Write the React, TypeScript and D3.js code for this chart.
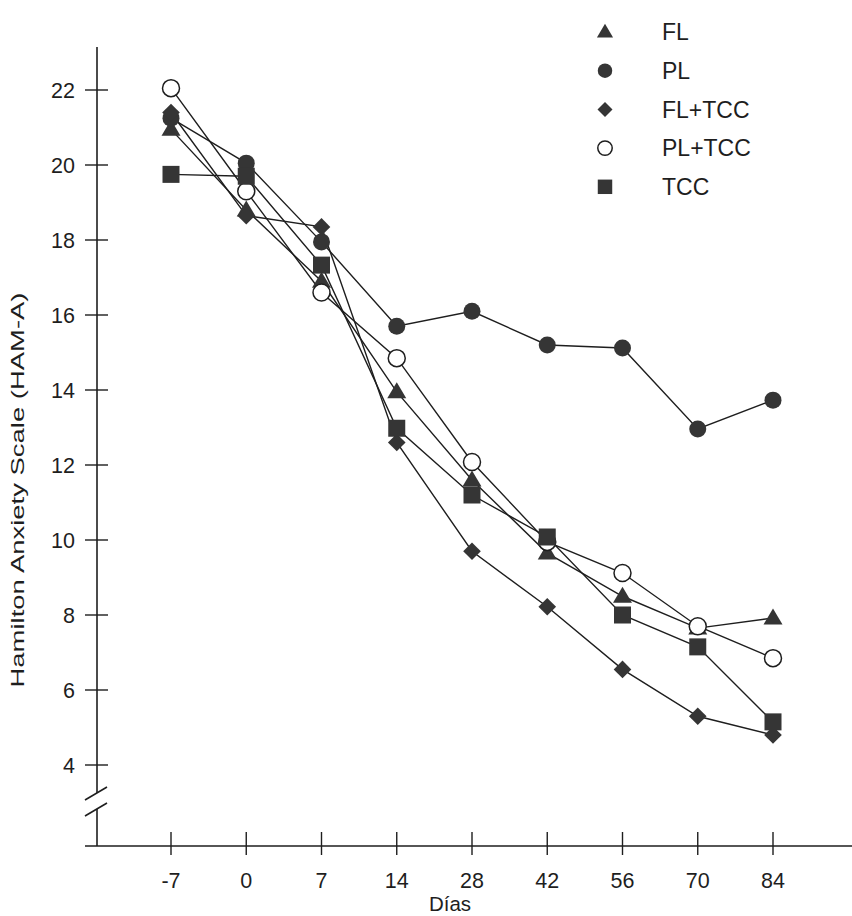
import React from "react";
import * as d3 from "d3";

const days = ["-7", "0", "7", "14", "28", "42", "56", "70", "84"];
const seriesNames = ["FL", "PL", "FL+TCC", "PL+TCC", "TCC"];
const flValues = [20.95, 18.8, 16.9, 13.95, 11.6, 9.65, 8.5, 7.65, 7.92];
const plValues = [21.25, 20.05, 17.95, 15.7, 16.1, 15.2, 15.12, 12.96, 13.73];
const flTccValues = [21.4, 18.65, 18.35, 12.6, 9.7, 8.22, 6.55, 5.3, 4.8];
const plTccValues = [22.05, 19.3, 16.6, 14.85, 12.08, 9.95, 9.12, 7.7, 6.85];
const tccValues = [19.75, 19.7, 17.33, 12.98, 11.2, 10.08, 8.0, 7.15, 5.15];
const yTicks = [4, 6, 8, 10, 12, 14, 16, 18, 20, 22];

const FONT = "'Liberation Sans', Arial, Helvetica, sans-serif";
const INK = "#1e1e1e";
const FILL = "#353535";

type Shape = "triangle" | "circle" | "diamond" | "open" | "square";
const shapes: Shape[] = ["triangle", "circle", "diamond", "open", "square"];

function Marker({ shape, x, y, s = 1 }: { shape: Shape; x: number; y: number; s?: number }) {
  if (shape === "circle")
    return <circle cx={x} cy={y} r={8.5 * s} fill={FILL} />;
  if (shape === "open")
    return <circle cx={x} cy={y} r={8.5 * s} fill="#fff" stroke={INK} strokeWidth={1.5} />;
  if (shape === "square")
    return <rect x={x - 8.5 * s} y={y - 8.5 * s} width={17 * s} height={17 * s} fill={FILL} />;
  if (shape === "diamond") {
    const r = 8.8 * s;
    return <path d={`M${x},${y - r}L${x + r},${y}L${x},${y + r}L${x - r},${y}Z`} fill={FILL} />;
  }
  const h = 16 * s, w = 19 * s;
  return <path d={`M${x},${y - h * 0.6}L${x + w / 2},${y + h * 0.4}L${x - w / 2},${y + h * 0.4}Z`} fill={FILL} />;
}

export default function App() {
  const allSeries = [flValues, plValues, flTccValues, plTccValues, tccValues];
  const x = d3.scalePoint<string>().domain(days).range([171, 773]).padding(0);
  const y = d3.scaleLinear().domain([4, 22]).range([765, 90]);
  const line = d3
    .line<number>()
    .x((_, i) => x(days[i]) as number)
    .y((v) => y(v));

  const axisX = 97;
  const axisY = 846;

  return (
    <svg
      width={852}
      height={916}
      style={{ position: "absolute", left: 0, top: 0, background: "#fff" }}
      fontFamily={FONT}
    >
      <rect width={852} height={916} fill="#fff" />
      {/* Y axis with break */}
      <line x1={axisX} x2={axisX} y1={47} y2={793} stroke={INK} strokeWidth={1.6} />
      <line x1={axisX} x2={axisX} y1={809} y2={axisY} stroke={INK} strokeWidth={1.6} />
      <line x1={85} y1={800} x2={107} y2={787} stroke={INK} strokeWidth={1.6} />
      <line x1={85} y1={816} x2={107} y2={803} stroke={INK} strokeWidth={1.6} />
      {yTicks.map((t) => (
        <g key={t}>
          <line x1={85} x2={108} y1={y(t)} y2={y(t)} stroke={INK} strokeWidth={1.4} />
          <text x={75} y={y(t)} dy="0.36em" textAnchor="end" fontSize={21.5} fill={INK}>
            {t}
          </text>
        </g>
      ))}
      <text
        transform={`translate(24,490) rotate(-90)`}
        textAnchor="middle"
        fontSize={18}
        fill={INK}
        textLength={395}
        lengthAdjust="spacingAndGlyphs"
      >
        Hamilton Anxiety Scale (HAM-A)
      </text>

      {/* X axis */}
      <line x1={85} x2={852} y1={axisY} y2={axisY} stroke={INK} strokeWidth={1.6} />
      {days.map((d) => (
        <g key={d}>
          <line x1={x(d)} x2={x(d)} y1={832} y2={855} stroke={INK} strokeWidth={1.4} />
          <text x={x(d)} y={888} textAnchor="middle" fontSize={21.5} fill={INK}>
            {d}
          </text>
        </g>
      ))}
      <text x={450} y={911} textAnchor="middle" fontSize={20.5} fill={INK}>
        Días
      </text>

      {/* Series lines */}
      {allSeries.map((vals, si) => (
        <path key={si} d={line(vals) || ""} fill="none" stroke={INK} strokeWidth={1.4} />
      ))}
      {/* Markers */}
      {allSeries.map((vals, si) =>
        vals.map((v, i) => (
          <Marker key={`${si}-${i}`} shape={shapes[si]} x={x(days[i]) as number} y={y(v)} />
        ))
      )}

      {/* Legend */}
      {seriesNames.map((name, i) => {
        const ly = 32 + i * 38.7;
        return (
          <g key={name}>
            <Marker shape={shapes[i]} x={605} y={ly} s={0.85} />
            <text x={662} y={ly} dy="0.36em" fontSize={23} fill={INK}>
              {name}
            </text>
          </g>
        );
      })}
    </svg>
  );
}
